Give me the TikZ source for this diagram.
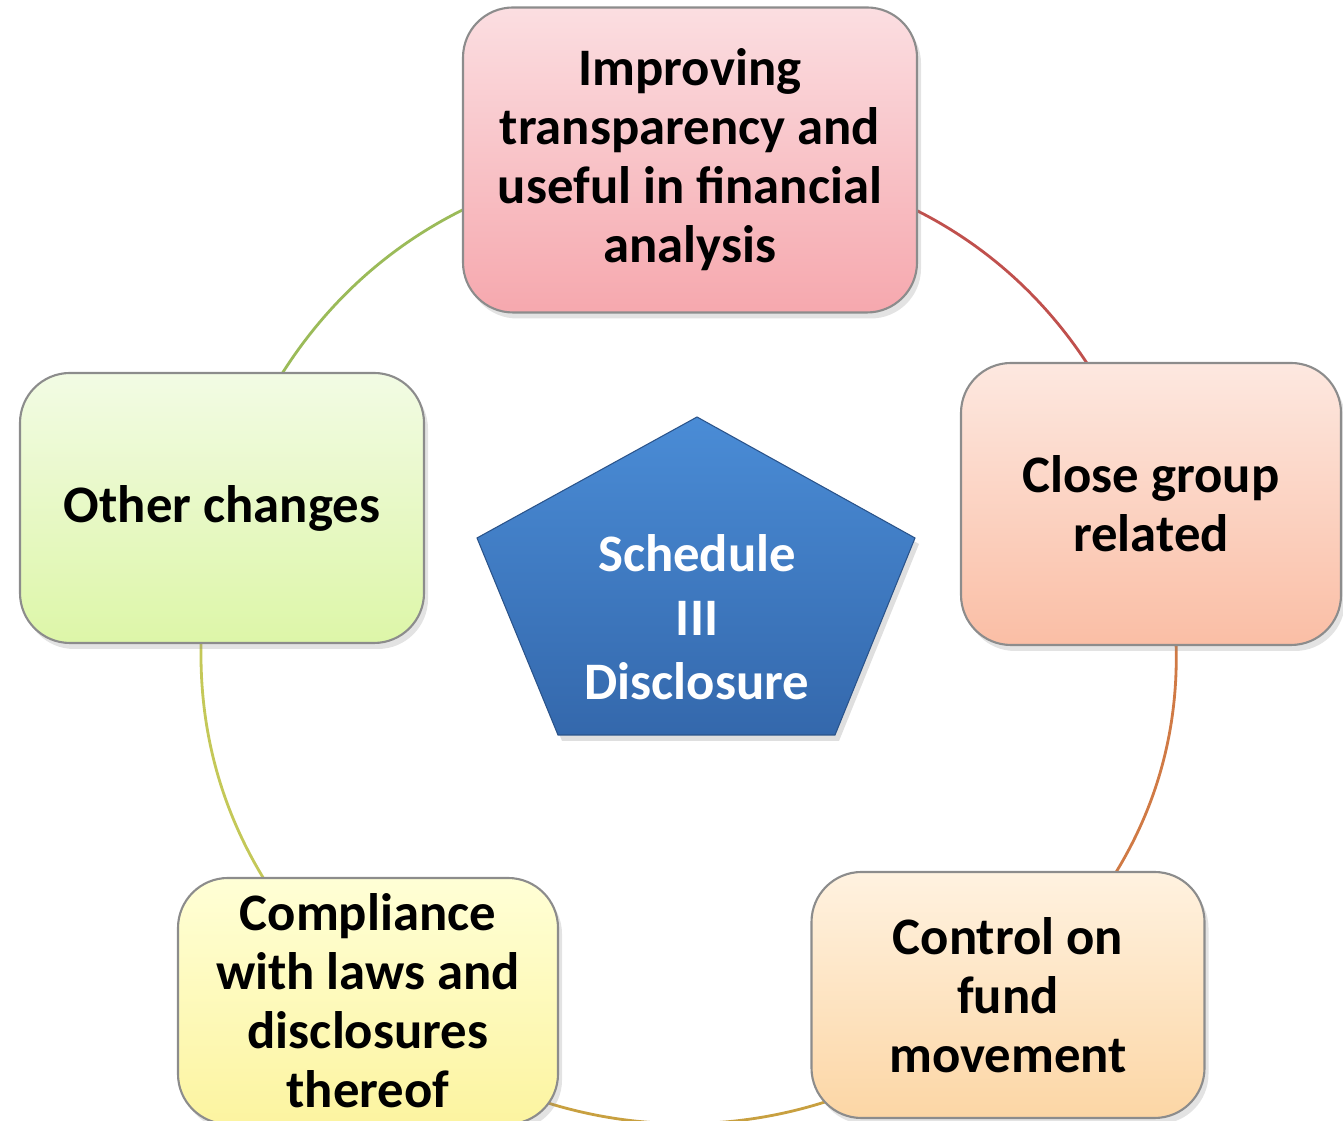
\documentclass[tikz,border=0pt]{standalone}
\usepackage{fontspec}
\setmainfont{Carlito}
\usepackage{tikz}
\usetikzlibrary{backgrounds,shadows,positioning}

\definecolor{arcred}{RGB}{192,80,77}
\definecolor{arcorange}{RGB}{208,122,69}
\definecolor{arcgold}{RGB}{200,160,64}
\definecolor{arclime}{RGB}{196,200,88}
\definecolor{arcgreen}{RGB}{155,187,89}
\definecolor{hubhigh}{RGB}{74,140,214}
\definecolor{hublow}{RGB}{52,104,172}

\begin{document}
\begin{tikzpicture}
[font=\fontsize{15}{16.8}\selectfont\bfseries,
% STYLES
% The item style is used for the rounded boxes on the ring
item/.style={rectangle, rounded corners=0.5cm, draw=black!45, line width=0.6pt, align=center, inner sep=2pt,
  drop shadow={opacity=0.22, shadow xshift=0.04cm, shadow yshift=-0.06cm}},
% The hub style is used for the blue pentagon in the middle
hub/.style={draw=hublow!80!black, line width=0.3pt, top color=hubhigh, bottom color=hublow,
  drop shadow={opacity=0.25, shadow xshift=0.04cm, shadow yshift=-0.06cm}},
ring/.style={line width=0.8pt}]

\useasboundingbox (0,0) rectangle (13.43,11.21);

% Draw items
\node [item, minimum width=4.54cm, minimum height=3.05cm, top color={rgb,255:red,251;green,222;blue,225}, bottom color={rgb,255:red,246;green,168;blue,174}] (transparency) at (6.90,9.61) {Improving\\transparency and\\useful in financial\\analysis};
\node [item, minimum width=3.80cm, minimum height=2.82cm, top color={rgb,255:red,253;green,232;blue,224}, bottom color={rgb,255:red,250;green,190;blue,165}] (group) at (11.51,6.17) {Close group\\related};
\node [item, minimum width=3.93cm, minimum height=2.46cm, top color={rgb,255:red,255;green,242;blue,224}, bottom color={rgb,255:red,252;green,214;blue,165}] (fund) at (10.08,1.26) {Control on\\fund\\movement};
\node [item, minimum width=3.80cm, minimum height=2.46cm, top color={rgb,255:red,255;green,255;blue,214}, bottom color={rgb,255:red,252;green,244;blue,160}] (compliance) at (3.68,1.20) {Compliance\\with laws and\\disclosures\\thereof};
\node [item, minimum width=4.04cm, minimum height=2.70cm, top color={rgb,255:red,242;green,251;blue,228}, bottom color={rgb,255:red,221;green,246;blue,168}] (other) at (2.22,6.13) {Other changes};

% Draw the hub
\coordinate (hubtop) at (6.97,7.04);
\coordinate (hubright) at (9.15,5.83);
\coordinate (hubbr) at (8.35,3.86);
\coordinate (hubbl) at (5.58,3.86);
\coordinate (hubleft) at (4.77,5.83);
\path [hub] (hubtop) -- (hubright) -- (hubbr) -- (hubbl) -- (hubleft) -- cycle;
\node [text=white, align=center, font=\fontsize{15}{18.2}\selectfont\bfseries] (schedule) at (6.97,5.04) {Schedule\\III\\Disclosure};

% Draw the ring between items
\begin{scope}[on background layer]
\path[ring]
(transparency.center) edge[bend left=37, arcred] (group.center)
(group.center) edge[bend left=34, arcorange] (fund.center)
(fund.center) edge[bend left=42, arcgold] (compliance.center)
(compliance.center) edge[bend left=32, arclime] (other.center)
(other.center) edge[bend left=37, arcgreen] (transparency.center);
\end{scope}

\end{tikzpicture}
\end{document}
